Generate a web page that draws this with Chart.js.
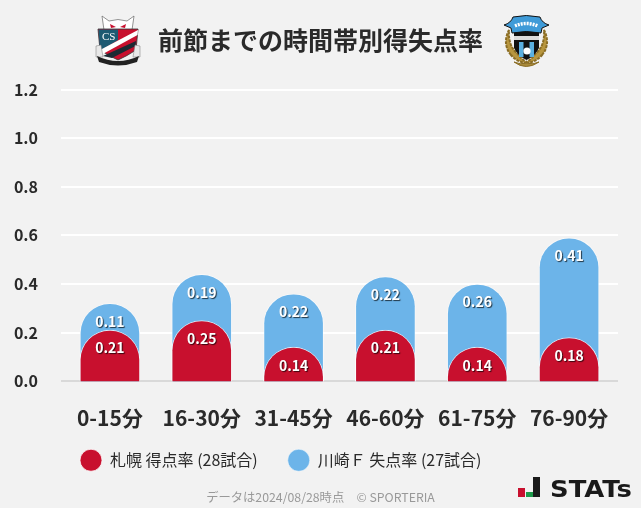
<!DOCTYPE html>
<html lang="ja">
<head>
<meta charset="UTF-8" />
<title>前節までの時間帯別得失点率</title>
<script src="https://cdn.jsdelivr.net/npm/chart.js"></script>
<style>
    html, body { margin: 0; padding: 0; background: #f2f2f2; }
    .wrap { position: relative; width: 641px; height: 508px; overflow: hidden; }
    canvas { display: block; }
    svg.logo { position: absolute; left: 0; top: 0; }
</style>
</head>
<body>
<div class="wrap">
    <canvas id="rateChart" width="641" height="508"></canvas>
    <svg class="logo" width="641" height="508" viewBox="0 0 641 508">
        <!-- Sapporo crest -->
        <path d="M102 16 L109 21 Q118 18 127 21 L134 16 L132 30 L104 30 Z" fill="#fff" stroke="#666" stroke-width=".7"/>
        <path d="M110 24 L116 27 L111 28 Z M126 24 L120 27 L125 28 Z" fill="#c8102e"/>
        <path d="M98 29 L138 29 L136 50 Q127 56 118 60 Q109 56 100 50 Z" fill="#c8102e" stroke="#333" stroke-width=".8"/>
        <path d="M98.5 29.5 L118 29.5 L118 40 L100 51 Z" fill="#1d5a72"/>
        <path d="M100 50 L138 30 L137.5 35 L101 55 Z" fill="#fff"/>
        <path d="M103 56 L136 41 L135.5 46 L112 58 Z" fill="#1c2a33"/>
        <text x="102" y="40" font-family="Liberation Serif" font-size="11" fill="#fff">CS</text>
        <path d="M96 46 L101 45 L103 57 L96 57 Z M140 46 L135 45 L133 57 L140 57 Z" fill="#e8e8e8" stroke="#777" stroke-width=".5"/>
        <path d="M97 56 Q118 66 139 56 L137 62 Q118 69 99 62 Z" fill="#222"/>
        <!-- Kawasaki crest -->
        <path d="M511 55 Q502 44 509 30 Q508 46 517 53 Q521 59 528 63 Q518 63 511 55 Z M542 55 Q551 44 544 30 Q545 46 536 53 Q532 59 525 63 Q535 63 542 55 Z" fill="#b8963e" stroke="#8a6d25" stroke-width="2" stroke-dasharray="3 1"/>
        <path d="M514 62 Q526 71 539 62 Q533 65 527 63 Q520 65 514 62 Z" fill="#a98a3a" stroke="#8a6d25"/>
        <path d="M514 31 L539 31 L539 48 Q535 56 526.5 60 Q518 56 514 48 Z" fill="#111"/>
        <path d="M519 42 H523.5 V57 H519 Z M529.5 42 H534 V57 H529.5 Z" fill="#5bb0e0"/>
        <rect x="514" y="36" width="25" height="4" fill="#dcdcdc"/>
        <circle cx="527" cy="51" r="3.6" fill="#fff"/>
        <path d="M504 25 Q511 23 513 17 Q526 14 540 17 Q542 23 549 25 L542 28 L541 33 Q526 30 512 33 L511 28 Z" fill="#3f9bd8" stroke="#111" stroke-width="1"/>
        <path d="M515 26 Q526 21 538 26" stroke="#fff" stroke-width="3.5" fill="none" stroke-dasharray="2 1"/>
        <!-- STATs mark -->
        <rect x="518" y="488" width="7" height="9" fill="#c8102e"/>
        <rect x="526" y="492" width="7" height="5" fill="#1e9a4b"/>
        <rect x="533" y="477" width="7" height="20" fill="#1a1a1a"/>
        <text x="550" y="497" font-family="DejaVu Sans" font-weight="700" font-size="23" fill="#1a1a1a" textLength="82" lengthAdjust="spacingAndGlyphs">STATs</text>
    </svg>
</div>

<script>
    const FONT = "'Noto Sans CJK JP', 'Noto Sans', sans-serif";

    const categories = ['0-15分', '16-30分', '31-45分', '46-60分', '61-75分', '76-90分'];
    const sapporoRate = [0.21, 0.25, 0.14, 0.21, 0.14, 0.18];
    const kawasakiRate = [0.11, 0.19, 0.22, 0.22, 0.26, 0.41];
    const yTickLabels = ['0.0', '0.2', '0.4', '0.6', '0.8', '1.0', '1.2'];

    const sapporoLabel = '札幌 得点率 (28試合)';
    const kawasakiLabel = '川崎Ｆ 失点率 (27試合)';
    const titleText = '前節までの時間帯別得失点率';
    const noteText = 'データは2024/08/28時点　© SPORTERIA';

    const RED = '#c8102e';
    const BLUE = '#6cb4e9';

    // blue bar sits behind the red one, so it runs up to the stacked total
    const kawasakiTop = kawasakiRate.map((v, i) => v + sapporoRate[i]);

    // chart.js caps the corner radius at half the bar height, so bars start
    // below the axis and get clipped there to keep the tops fully round.
    // has to stay smaller than the lowest value or the float bar flips
    const BELOW_AXIS = -0.13;
    const fromBelow = (v) => [BELOW_AXIS, v];

    // white numbers with a small dark shadow, a fixed distance under each bar top
    const barLabels = {
        id: 'barLabels',
        afterDatasetsDraw(chart) {
            const { ctx } = chart;
            const y = chart.scales.y;
            const x = chart.scales.x;
            ctx.save();
            ctx.font = 'bold 14px ' + FONT;
            ctx.textAlign = 'center';
            ctx.textBaseline = 'middle';
            ctx.fillStyle = '#fff';
            ctx.shadowColor = 'rgba(0,0,0,0.7)';
            ctx.shadowOffsetX = 1;
            ctx.shadowOffsetY = 1;
            ctx.shadowBlur = 1;
            categories.forEach((c, i) => {
                const cx = x.getPixelForValue(i);
                ctx.fillText(kawasakiRate[i].toFixed(2), cx, y.getPixelForValue(kawasakiTop[i]) + 18);
                ctx.fillText(sapporoRate[i].toFixed(2), cx, y.getPixelForValue(sapporoRate[i]) + 18);
            });
            ctx.restore();
        }
    };

    // legend starts a bit right of the plot, not where the layout puts it.
    // x box is kept short for the legend, so widen it again or the labels get clipped
    const layoutNudge = {
        id: 'layoutNudge',
        afterLayout(chart) {
            chart.legend.left = 50;
            chart.legend.right = 620;
            chart.scales.x.bottom = chart.height;
        }
    };

    const gridColor = (c) => (c.tick && c.tick.value === 0 ? '#d9d9d9' : '#ffffff');

    new Chart(document.getElementById('rateChart'), {
        type: 'bar',
        data: {
            labels: categories,
            datasets: [
                {
                    label: sapporoLabel,
                    data: sapporoRate.map(fromBelow),
                    backgroundColor: RED,
                    borderColor: 'rgba(255,255,255,0.75)',
                    borderWidth: 1,
                    borderSkipped: 'bottom',
                    borderRadius: { topLeft: 30, topRight: 30 },
                    barThickness: 60,
                    grouped: false,
                    order: 1
                },
                {
                    label: kawasakiLabel,
                    data: kawasakiTop.map(fromBelow),
                    backgroundColor: BLUE,
                    borderColor: 'rgba(255,255,255,0.5)',
                    borderWidth: 1,
                    borderSkipped: 'bottom',
                    borderRadius: { topLeft: 30, topRight: 30 },
                    barThickness: 60,
                    grouped: false,
                    order: 2
                }
            ]
        },
        options: {
            responsive: false,
            animation: false,
            devicePixelRatio: 1,
            layout: { padding: { left: 0, right: 0, top: 24, bottom: 0 } },
            plugins: {
                tooltip: { enabled: false },
                title: {
                    display: true,
                    text: titleText,
                    color: '#2a2a2a',
                    font: { family: FONT, size: 25, weight: 'bold', lineHeight: 1.3 },
                    padding: { top: 0, bottom: 33 }
                },
                subtitle: {
                    display: true,
                    position: 'bottom',
                    text: noteText,
                    color: '#999',
                    font: { family: FONT, size: 12.3, weight: 'normal', lineHeight: 1.2 },
                    padding: { top: 12, bottom: 3 }
                },
                legend: {
                    position: 'bottom',
                    align: 'start',
                    fullSize: false,
                    labels: {
                        usePointStyle: true,
                        pointStyle: 'circle',
                        pointStyleWidth: 22,
                        boxHeight: 15.6,
                        padding: 30,
                        color: '#2a2a2a',
                        font: { family: FONT, size: 16 }
                    }
                }
            },
            scales: {
                x: {
                    grid: { display: false },
                    border: { display: false },
                    ticks: {
                        color: '#2a2a2a',
                        padding: 16,
                        font: { family: FONT, size: 21, weight: 'bold' },
                        maxRotation: 0
                    },
                    afterFit(s) { s.height = 41; }
                },
                y: {
                    min: 0,
                    max: 1.2,
                    border: { display: false },
                    grid: { color: gridColor, lineWidth: 2, tickLength: 3 },
                    ticks: {
                        stepSize: 0.2,
                        color: '#2a2a2a',
                        padding: 23,
                        font: { family: FONT, size: 16, weight: 'bold' },
                        callback: (v, i) => yTickLabels[i]
                    },
                    afterFit(s) { s.width = 64; }
                },
                // only here so the grid lines overshoot the bars' band on the right
                y2: {
                    position: 'right',
                    min: 0,
                    max: 1.2,
                    border: { display: false },
                    grid: { color: gridColor, lineWidth: 2, tickLength: 3 },
                    ticks: { display: false, stepSize: 0.2 },
                    afterFit(s) { s.width = 26; }
                }
            }
        },
        plugins: [barLabels, layoutNudge]
    });
</script>
</body>
</html>
